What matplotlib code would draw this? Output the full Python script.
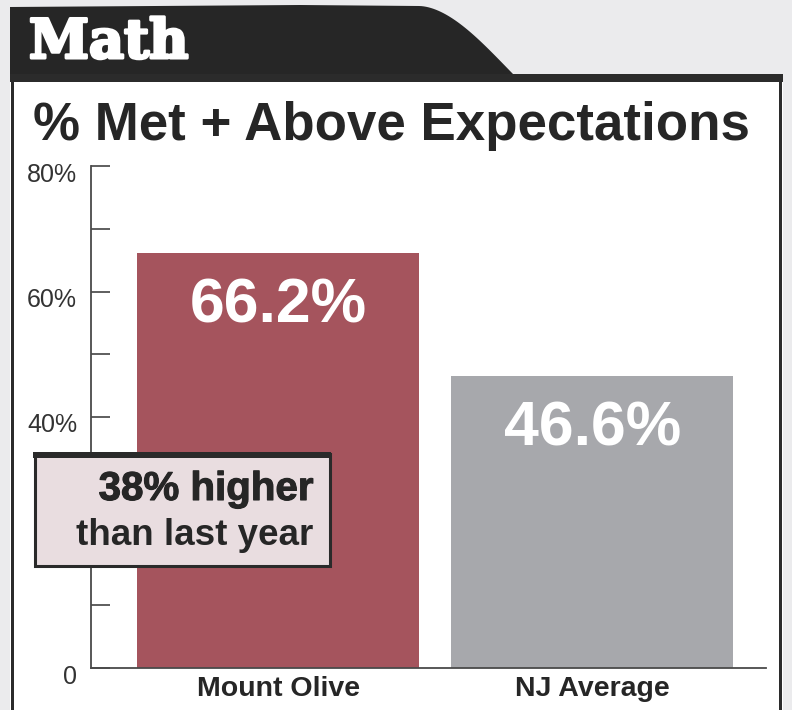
import matplotlib.pyplot as plt
from matplotlib.patches import Rectangle, Polygon
from matplotlib.transforms import ScaledTranslation
import matplotlib.patheffects as pe
import numpy as np

plt.rcParams['font.family'] = ['Liberation Sans', 'DejaVu Sans']

# data
schools = ["Mount Olive", "NJ Average"]
pct_met = [66.2, 46.6]
bar_colors = ["#a5545d", "#a7a8ac"]
yticks_major = [0, 20, 40, 60, 80]
ytick_labels = ["0", "", "40%", "60%", "80%"]   # 20% sits under the callout box
yticks_minor = [10, 30, 50, 70]
subject = "Math"
chart_title = "% Met + Above Expectations"
note_lines = ["38% higher", "than last year"]

W, H = 792, 710
fig = plt.figure(figsize=(W / 100, H / 100), dpi=100)
fig.patch.set_facecolor("#ebebed")

# background layer in pixel coords (y down)
bg = fig.add_axes([0, 0, 1, 1], zorder=0)
bg.set_xlim(0, W)
bg.set_ylim(H, 0)
bg.axis("off")

##tab with curved right edge
t = np.linspace(0, 1, 40)
cx = 419 + 94 * t
cy = 6 + 68 * (1 - np.cos(t * np.pi / 2)) ** 0.9
tab = [(10, 75), (10, 7), (300, 5), (419, 6)] + list(zip(cx, cy)) + [(513, 75)]
bg.add_patch(Polygon(tab, closed=True, facecolor="#262626", edgecolor="none"))
bg.text(29, 58, subject, color="white", fontsize=39, fontweight="bold",
        family="DejaVu Serif", ha="left", va="baseline",
        path_effects=[pe.withStroke(linewidth=2.2, foreground="white")])

##white panel
bg.add_patch(Rectangle((10, 74), 773, 700, facecolor="white", edgecolor="none"))
bg.add_patch(Rectangle((10, 74), 773, 8, facecolor="#2b2b2b", edgecolor="none"))
bg.add_patch(Rectangle((11, 74), 3, 700, facecolor="#2b2b2b", edgecolor="none"))
bg.add_patch(Rectangle((779, 74), 3, 700, facecolor="#2b2b2b", edgecolor="none"))
bg.text(33, 140, chart_title, color="#262626", fontsize=38.1, fontweight="bold",
        ha="left", va="baseline")

# chart axes
ax_l, ax_r, ax_t, ax_b = 91, 766, 166, 668
ax = fig.add_axes([ax_l / W, (H - ax_b) / H, (ax_r - ax_l) / W, (ax_b - ax_t) / H], zorder=1)
ax.patch.set_alpha(0)
x = np.arange(len(schools))
ax.bar(x, pct_met, width=0.897, color=bar_colors, zorder=2)
ax.set_xlim(-0.595, 1.552)
ax.set_ylim(0, 80)
for s in ["top", "right"]:
    ax.spines[s].set_visible(False)
for s in ["left", "bottom"]:
    ax.spines[s].set_color("#4a4a4a")
    ax.spines[s].set_linewidth(1.3)

ax.set_yticks(yticks_major)
ax.set_yticklabels(ytick_labels)
ax.set_yticks(yticks_minor, minor=True)
ax.tick_params(axis="y", which="both", direction="in", length=13.7, width=1.1,
               color="#333333", labelsize=18, labelcolor="#333333", pad=10)
for lab in ax.get_yticklabels():
    lab.set_transform(lab.get_transform() + ScaledTranslation(0, -0.06, fig.dpi_scale_trans))
ax.set_xticks(x)
ax.set_xticklabels(schools, fontsize=20.5, fontweight="bold", color="#262626")
ax.tick_params(axis="x", length=0, pad=6)

for xi, v in zip(x, pct_met):
    ax.annotate(f"{v}%", (xi, v), xytext=(0, -70), textcoords="offset pixels",
                ha="center", va="baseline", color="white", fontsize=45, fontweight="bold")

# callout box on top
ov = fig.add_axes([0, 0, 1, 1], zorder=3)
ov.set_xlim(0, W)
ov.set_ylim(H, 0)
ov.axis("off")
ov.add_patch(Rectangle((34.5, 453.5), 295, 112, facecolor="#e9dde0", edgecolor="#2a2a2a", linewidth=2.2))
ov.add_patch(Rectangle((33, 452), 298, 6, facecolor="#2a2a2a", edgecolor="none"))
ov.text(313, 500, note_lines[0], color="#262626", fontsize=29, fontweight="bold",
        ha="right", va="baseline",
        path_effects=[pe.withStroke(linewidth=0.8, foreground="#262626")])
ov.text(313, 545, note_lines[1], color="#262626", fontsize=26.5, fontweight="bold",
        ha="right", va="baseline")

fig.savefig("out.png", dpi=100)
